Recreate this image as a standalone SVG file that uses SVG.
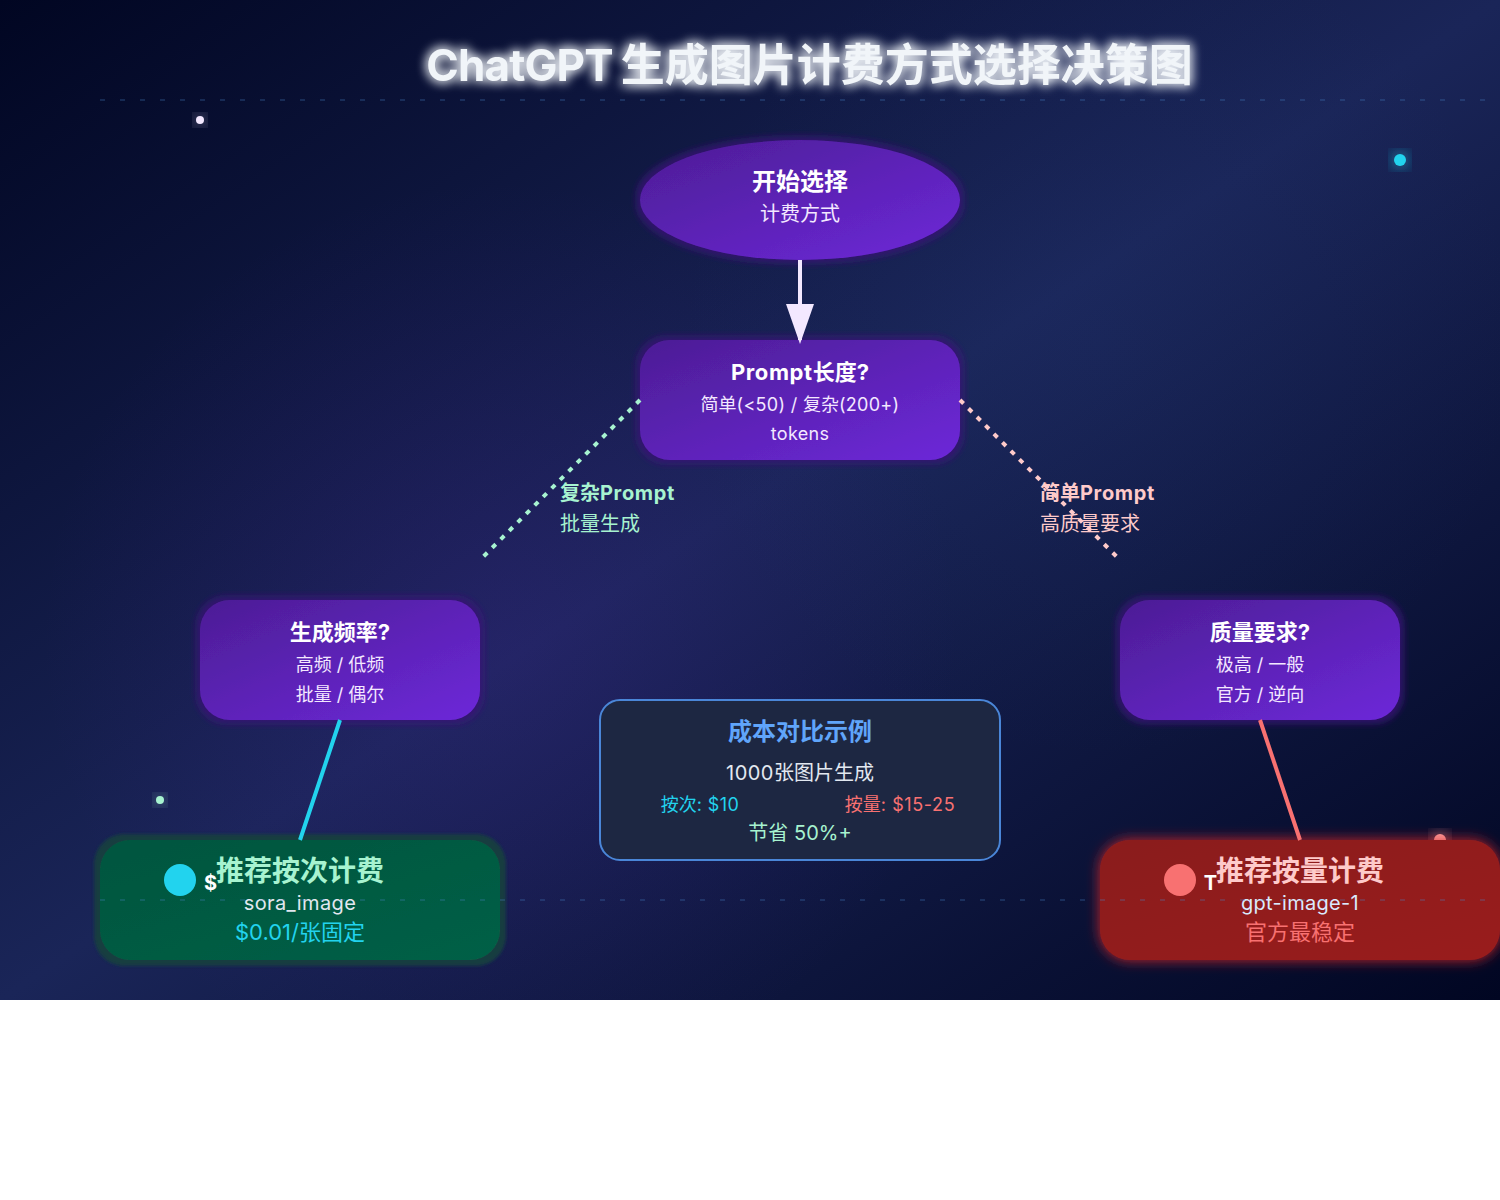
<svg xmlns="http://www.w3.org/2000/svg" width="1500" height="1200" viewBox="0 0 1500 1200">
<defs>
<linearGradient id="bg" x1="0" y1="0" x2="1" y2="1"><stop offset="0" stop-color="#010622"/><stop offset="0.5" stop-color="#1a2558"/><stop offset="1" stop-color="#010622"/></linearGradient>
<radialGradient id="rp" gradientUnits="userSpaceOnUse" cx="500" cy="640" r="460"><stop offset="0" stop-color="#5b21b6" stop-opacity="0.16"/><stop offset="1" stop-color="#5b21b6" stop-opacity="0"/></radialGradient>
<radialGradient id="rb" gradientUnits="userSpaceOnUse" cx="1100" cy="340" r="420"><stop offset="0" stop-color="#2a4a90" stop-opacity="0.1"/><stop offset="1" stop-color="#2a4a90" stop-opacity="0"/></radialGradient>
<linearGradient id="pu" x1="0" y1="0" x2="1" y2="1"><stop offset="0" stop-color="#4c1d95"/><stop offset="1" stop-color="#6d28d9"/></linearGradient>
<linearGradient id="gr" x1="0" y1="0" x2="1" y2="1"><stop offset="0" stop-color="#00563f"/><stop offset="1" stop-color="#065f46"/></linearGradient>
<linearGradient id="re" x1="0" y1="0" x2="1" y2="1"><stop offset="0" stop-color="#8a1c1c"/><stop offset="1" stop-color="#991b1b"/></linearGradient>
<filter id="glow" x="-50%" y="-50%" width="200%" height="200%"><feGaussianBlur stdDeviation="8" result="b"/><feMerge><feMergeNode in="b"/><feMergeNode in="SourceGraphic"/></feMerge></filter>
<filter id="pglow" x="-10%" y="-20%" width="120%" height="140%"><feMorphology in="SourceAlpha" operator="dilate" radius="4" result="m"/><feGaussianBlur in="m" stdDeviation="3" result="a"/><feFlood flood-color="#3a1578" flood-opacity="0.75"/><feComposite in2="a" operator="in" result="s"/><feMerge><feMergeNode in="s"/><feMergeNode in="SourceGraphic"/></feMerge></filter>
<filter id="gglow" x="-10%" y="-20%" width="120%" height="140%"><feMorphology in="SourceAlpha" operator="dilate" radius="6" result="m"/><feGaussianBlur in="m" stdDeviation="1.5" result="a"/><feFlood flood-color="#163e40" flood-opacity="0.95"/><feComposite in2="a" operator="in" result="s"/><feMerge><feMergeNode in="s"/><feMergeNode in="SourceGraphic"/></feMerge></filter>
<filter id="rglow" x="-10%" y="-20%" width="120%" height="140%"><feGaussianBlur in="SourceAlpha" stdDeviation="7" result="a"/><feFlood flood-color="#dc2626" flood-opacity="0.9"/><feComposite in2="a" operator="in" result="s"/><feMerge><feMergeNode in="s"/><feMergeNode in="SourceGraphic"/></feMerge></filter>
<filter id="tglow" x="-10%" y="-50%" width="120%" height="200%"><feGaussianBlur stdDeviation="6" result="b"/><feMerge><feMergeNode in="b"/><feMergeNode in="b"/><feMergeNode in="SourceGraphic"/></feMerge></filter>
<marker id="arrow" markerWidth="10" markerHeight="7" refX="9" refY="3.5" orient="auto"><polygon points="0 0, 10 3.5, 0 7" fill="#f3e8ff"/></marker>
</defs>
<style>
text{font-family:Inter,"Noto Sans CJK SC",sans-serif;text-anchor:middle}
.t1{font-size:24px;font-weight:700;fill:#fff}
.t1s{font-size:22px;font-weight:700;fill:#fff}
.s20{font-size:20px;fill:#f3e8ff}
.s18{font-size:18px;fill:#f3e8ff}
.b{font-size:28px;font-weight:700}
.lbl{text-anchor:start;font-size:20px}
.grid{stroke:#4a85c8;stroke-width:1;stroke-dasharray:5 15;opacity:.5;fill:none}
.dot{fill:none;stroke-width:4;stroke-dasharray:5 7}
</style>
<rect width="1500" height="1000" fill="url(#bg)"/>
<rect width="1500" height="1000" fill="url(#rp)"/>
<rect width="1500" height="1000" fill="url(#rb)"/>
<g id="particles">
<circle cx="200" cy="120" r="4" fill="#f3e8ff" filter="url(#glow)"/>
<circle cx="1400" cy="160" r="6" fill="#22d3ee" filter="url(#glow)"/>
<circle cx="160" cy="800" r="4" fill="#a7f3d0" filter="url(#glow)"/>
<circle cx="1440" cy="840" r="6" fill="#fca5a5" filter="url(#glow)"/>
</g>
<text id="title" x="809.5" y="80.5" font-weight="700" fill="#f1f5f9" filter="url(#tglow)" style="font-size:44px"><tspan letter-spacing="-0.85">ChatGPT</tspan><tspan letter-spacing="-2.5"> </tspan>生成图片计费方式选择决策图</text>
<g id="start">
<ellipse cx="800" cy="200" rx="160" ry="60" fill="url(#pu)" filter="url(#pglow)"/>
<text class="t1" x="800" y="190">开始选择</text>
<text class="s20" x="800" y="220.6">计费方式</text>
</g>
<g id="prompt">
<rect x="640" y="340" width="320" height="120" rx="30" fill="url(#pu)" filter="url(#pglow)"/>
<text class="t1s" x="800" y="380"><tspan letter-spacing="0.6">Prompt</tspan>长度?</text>
<text class="s18" x="800" y="410.5">简单<tspan letter-spacing="0.3">(&lt;50) / </tspan>复杂<tspan letter-spacing="0.3">(200+)</tspan></text>
<text class="s18" x="800" y="440" letter-spacing="0.3">tokens</text>
</g>
<g id="labels">
<text class="lbl" x="560" y="500" font-weight="700" fill="#a7f3d0">复杂<tspan letter-spacing="0.65">Prompt</tspan></text>
<text class="lbl" x="560" y="530.6" fill="#a7f3d0">批量生成</text>
<text class="lbl" x="1040" y="500" font-weight="700" fill="#fecaca">简单<tspan letter-spacing="0.65">Prompt</tspan></text>
<text class="lbl" x="1040" y="530.6" fill="#fecaca">高质量要求</text>
</g>
<g id="freq">
<rect x="200" y="600" width="280" height="120" rx="30" fill="url(#pu)" filter="url(#pglow)"/>
<text class="t1s" x="340" y="640">生成频率?</text>
<text class="s18" x="340" y="670.5">高频 / 低频</text>
<text class="s18" x="340" y="700.5">批量 / 偶尔</text>
</g>
<g id="quality">
<rect x="1120" y="600" width="280" height="120" rx="30" fill="url(#pu)" filter="url(#pglow)"/>
<text class="t1s" x="1260" y="640">质量要求?</text>
<text class="s18" x="1260" y="670.5">极高 / 一般</text>
<text class="s18" x="1260" y="700.5">官方 / 逆向</text>
</g>
<g id="compare">
<rect x="600" y="700" width="400" height="160" rx="20" fill="#1d2742" stroke="#4a86d8" stroke-width="2"/>
<text x="800" y="740" font-weight="700" fill="#60a5fa" style="font-size:24px">成本对比示例</text>
<text x="800" y="780" fill="#e2e8f0" style="font-size:20px"><tspan letter-spacing="0.5">1000</tspan>张图片生成</text>
<text x="700" y="810.5" fill="#22d3ee" style="font-size:18px">按次<tspan letter-spacing="0.4">: $10</tspan></text>
<text x="900" y="810.5" fill="#f87171" style="font-size:18px">按量<tspan letter-spacing="0.6">: $15-25</tspan></text>
<text x="800" y="840" fill="#a7f3d0" style="font-size:20px">节省 50%+</text>
</g>
<g id="pay-per-use">
<rect x="100" y="840" width="400" height="120" rx="30" fill="url(#gr)" filter="url(#gglow)"/>
<circle cx="180" cy="880" r="16" fill="#22d3ee"/>
<text x="210.5" y="890" font-weight="700" fill="#fff" style="font-size:20px">$</text>
<text class="b" x="300" y="880.8" fill="#a7f3d0">推荐按次计费</text>
<text x="300" y="910" fill="#e2e8f0" letter-spacing="0.4" style="font-size:20px">sora_image</text>
<text x="300" y="940" fill="#22d3ee" style="font-size:22px">$0.01/张固定</text>
</g>
<g id="pay-per-token">
<rect x="1100" y="840" width="400" height="120" rx="30" fill="url(#re)" filter="url(#rglow)"/>
<circle cx="1180" cy="880" r="16" fill="#f87171"/>
<text x="1210.5" y="890" font-weight="700" fill="#fff" style="font-size:20px">T</text>
<text class="b" x="1300" y="880.8" fill="#fecaca">推荐按量计费</text>
<text x="1300" y="910" fill="#dbeafe" letter-spacing="0.3" style="font-size:20px">gpt-image-1</text>
<text x="1300" y="940" fill="#f87171" style="font-size:22px">官方最稳定</text>
</g>
<g id="connectors">
<line x1="800" y1="260" x2="800" y2="340" stroke="#f3e8ff" stroke-width="4" marker-end="url(#arrow)"/>
<line class="dot" x1="640" y1="400" x2="480" y2="560" stroke="#a7f3d0"/>
<line class="dot" x1="960" y1="400" x2="1120" y2="560" stroke="#fecaca"/>
<line x1="340" y1="720" x2="300" y2="840" stroke="#22d3ee" stroke-width="4"/>
<line x1="1260" y1="720" x2="1300" y2="840" stroke="#f87171" stroke-width="4"/>
</g>
<g id="grid">
<line class="grid" x1="100" y1="100" x2="1500" y2="100"/>
<line class="grid" x1="100" y1="900" x2="1500" y2="900"/>
</g>
</svg>
